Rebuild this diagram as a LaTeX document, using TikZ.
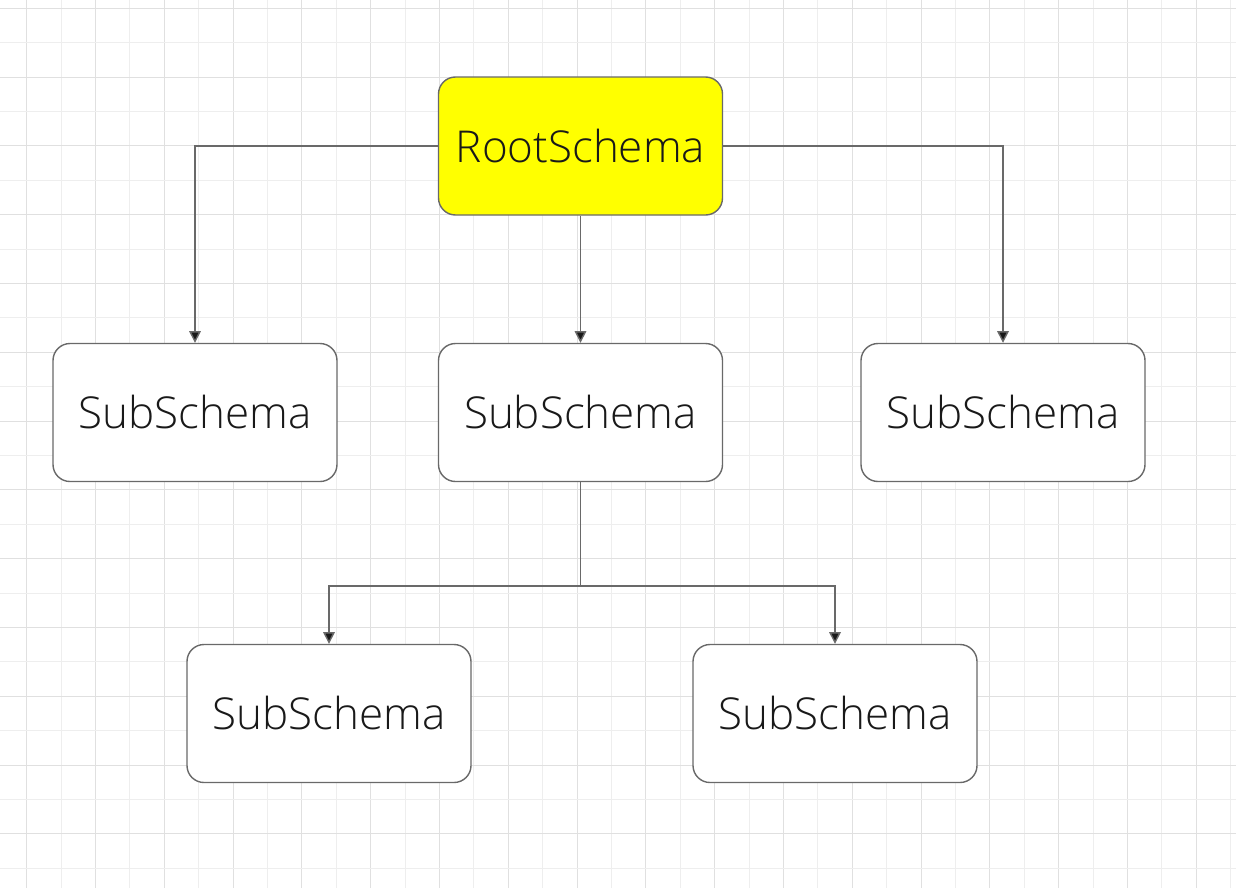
\documentclass[tikz,border=0pt]{standalone}
\usepackage{fontspec}
\setmainfont{Open Sans}[UprightFont={* Light}]
\usepackage{tikz}
\usetikzlibrary{positioning,arrows.meta}

\definecolor{gridlight}{RGB}{238,238,238}
\definecolor{griddark}{RGB}{224,224,224}
\definecolor{edgegray}{RGB}{105,105,105}
\definecolor{rootyellow}{RGB}{255,255,0}

\tikzset{
    schema/.style={draw=edgegray, line width=0.4pt, rounded corners=0.17cm,
        minimum width=2.84cm, minimum height=1.38cm, inner sep=0pt,
        font=\fontsize{12.5}{15}\selectfont, text=black!90},
    link/.style={draw=edgegray, line width=0.4pt,
        -{Triangle[length=3.3pt,width=3.3pt,fill=black!90]}},
}

\begin{document}
\begin{tikzpicture}
                \useasboundingbox (0,0) rectangle (12.36,8.88);
                \fill [white] (0,0) rectangle (12.36,8.88);
                \begin{scope}[line width=0.3pt]
                    \foreach \k in {0,...,35}{%
                        \pgfmathsetmacro{\xx}{0.267+0.344*\k}
                        \ifodd\k \def\gc{gridlight}\else \def\gc{griddark}\fi
                        \draw [\gc] (\xx,0) -- (\xx,8.88);
                    }
                    \foreach \k in {0,...,25}{%
                        \pgfmathsetmacro{\yy}{8.797-0.344*\k}
                        \ifodd\k \def\gc{gridlight}\else \def\gc{griddark}\fi
                        \draw [\gc] (0,\yy) -- (12.36,\yy);
                    }
                \end{scope}

                \node [schema, fill=rootyellow] (root) at (5.805,7.42) {RootSchema};
                \node [schema, fill=white] (subleft)  at (1.95,4.755)  {SubSchema};
                \node [schema, fill=white] (submid)   at (5.805,4.755) {SubSchema};
                \node [schema, fill=white] (subright) at (10.03,4.755) {SubSchema};
                \node [schema, fill=white] (subsubleft)  at (3.29,1.745) {SubSchema};
                \node [schema, fill=white] (subsubright) at (8.35,1.745) {SubSchema};

                \coordinate (split) at (5.805,3.02);

                \draw [link] (root.west) -| (subleft.north);
                \draw [link] (root.east) -| (subright.north);
                \draw [link] (root.south) -- (submid.north);
                \draw [draw=edgegray, line width=0.4pt] (submid.south) -- (split);
                \draw [link] (split) -| (subsubleft.north);
                \draw [link] (split) -| (subsubright.north);
            \end{tikzpicture}
\end{document}
